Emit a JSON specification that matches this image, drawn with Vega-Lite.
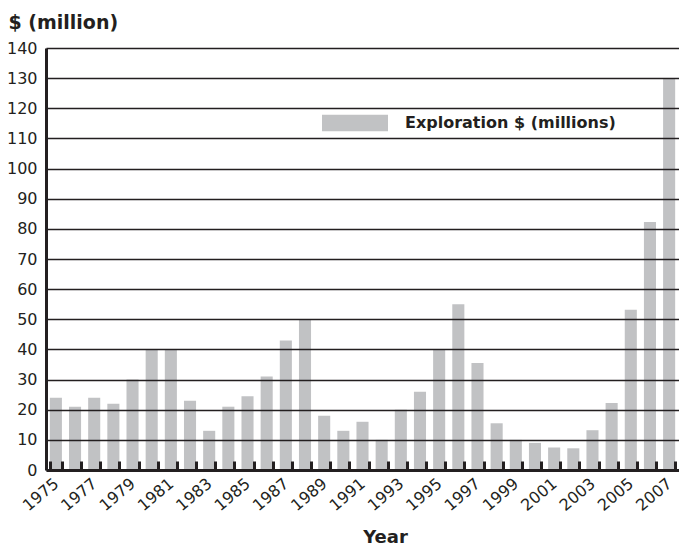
{
  "$schema": "https://vega.github.io/schema/vega-lite/v6.json",
  "width": 633,
  "height": 422,
  "autosize": {"type": "none"},
  "padding": {"left": 46, "top": 48, "right": 0, "bottom": 76},
  "background": "white",
  "config": {
    "view": {"stroke": null},
    "font": "DejaVu Sans"
  },
  "data": {
    "values": [
      {"year": 1975, "value": 24, "series": "Exploration $ (millions)"},
      {"year": 1976, "value": 21, "series": "Exploration $ (millions)"},
      {"year": 1977, "value": 24, "series": "Exploration $ (millions)"},
      {"year": 1978, "value": 22, "series": "Exploration $ (millions)"},
      {"year": 1979, "value": 30, "series": "Exploration $ (millions)"},
      {"year": 1980, "value": 40, "series": "Exploration $ (millions)"},
      {"year": 1981, "value": 40, "series": "Exploration $ (millions)"},
      {"year": 1982, "value": 23, "series": "Exploration $ (millions)"},
      {"year": 1983, "value": 13, "series": "Exploration $ (millions)"},
      {"year": 1984, "value": 21, "series": "Exploration $ (millions)"},
      {"year": 1985, "value": 24.5, "series": "Exploration $ (millions)"},
      {"year": 1986, "value": 31, "series": "Exploration $ (millions)"},
      {"year": 1987, "value": 43, "series": "Exploration $ (millions)"},
      {"year": 1988, "value": 50, "series": "Exploration $ (millions)"},
      {"year": 1989, "value": 18, "series": "Exploration $ (millions)"},
      {"year": 1990, "value": 13, "series": "Exploration $ (millions)"},
      {"year": 1991, "value": 16, "series": "Exploration $ (millions)"},
      {"year": 1992, "value": 10, "series": "Exploration $ (millions)"},
      {"year": 1993, "value": 20, "series": "Exploration $ (millions)"},
      {"year": 1994, "value": 26, "series": "Exploration $ (millions)"},
      {"year": 1995, "value": 40, "series": "Exploration $ (millions)"},
      {"year": 1996, "value": 55, "series": "Exploration $ (millions)"},
      {"year": 1997, "value": 35.5, "series": "Exploration $ (millions)"},
      {"year": 1998, "value": 15.5, "series": "Exploration $ (millions)"},
      {"year": 1999, "value": 10, "series": "Exploration $ (millions)"},
      {"year": 2000, "value": 9, "series": "Exploration $ (millions)"},
      {"year": 2001, "value": 7.5, "series": "Exploration $ (millions)"},
      {"year": 2002, "value": 7.2, "series": "Exploration $ (millions)"},
      {"year": 2003, "value": 13.2, "series": "Exploration $ (millions)"},
      {"year": 2004, "value": 22.2, "series": "Exploration $ (millions)"},
      {"year": 2005, "value": 53.2, "series": "Exploration $ (millions)"},
      {"year": 2006, "value": 82.3, "series": "Exploration $ (millions)"},
      {"year": 2007, "value": 130, "series": "Exploration $ (millions)"}
    ]
  },
  "mark": {"type": "bar"},
  "encoding": {
    "x": {
      "field": "year",
      "type": "ordinal",
      "scale": {"paddingInner": 0.37, "paddingOuter": 0.2},
      "axis": {
        "title": "Year",
        "titleFont": "DejaVu Sans",
        "titleFontSize": 18,
        "titleFontWeight": "bold",
        "titleColor": "#231f20",
        "titleX": 339,
        "titleY": 72,
        "titleBaseline": "alphabetic",
        "labelExpr": "datum.value % 2 == 1 ? datum.label : ''",
        "labelAngle": -40,
        "labelFontSize": 16,
        "labelColor": "#231f20",
        "labelPadding": 14,
        "labelOffset": -5,
        "tickBand": "extent",
        "tickSize": -9,
        "tickWidth": 3,
        "tickColor": "#231f20",
        "domainWidth": 3,
        "domainColor": "#231f20",
        "zindex": 1
      }
    },
    "y": {
      "field": "value",
      "type": "quantitative",
      "scale": {"domain": [0, 140], "nice": false},
      "axis": {
        "values": [0, 10, 20, 30, 40, 50, 60, 70, 80, 90, 100, 110, 120, 130, 140],
        "title": "$ (million)",
        "titleAngle": 0,
        "titleAlign": "left",
        "titleBaseline": "middle",
        "titleX": -38,
        "titleY": -26,
        "titleFontSize": 19,
        "titleFontWeight": "bold",
        "titleColor": "#231f20",
        "labelFontSize": 16,
        "labelColor": "#231f20",
        "labelPadding": 9,
        "ticks": false,
        "grid": true,
        "gridColor": "#231f20",
        "gridWidth": 1.5,
        "domainWidth": 3,
        "domainColor": "#231f20",
        "zindex": 1
      }
    },
    "color": {
      "field": "series",
      "type": "nominal",
      "scale": {"range": ["#c1c2c4"]},
      "legend": {
        "title": null,
        "orient": "none",
        "legendX": 276,
        "legendY": 42,
        "symbolType": "M-1,-0.25H1V0.25H-1Z",
        "symbolSize": 4356,
        "symbolStrokeWidth": 0,
        "symbolOpacity": 1,
        "labelFontSize": 16,
        "labelFontWeight": "bold",
        "labelColor": "#231f20",
        "labelOffset": 17,
        "labelLimit": 400
      }
    }
  }
}
